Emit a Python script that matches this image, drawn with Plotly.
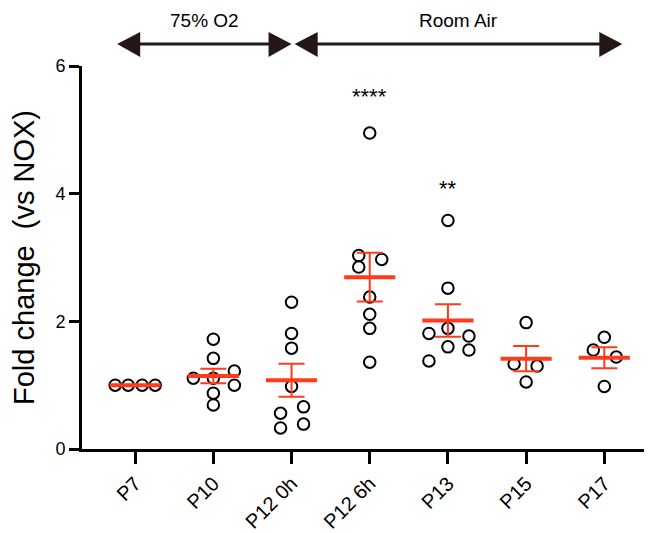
import numpy as np
import plotly.graph_objects as go

# ---- data ----
categories = ["P7", "P10", "P12 0h", "P12 6h", "P13", "P15", "P17"]
p7 = [1.00, 1.00, 1.00, 1.00]
p10 = [1.72, 1.42, 1.11, 1.11, 1.22, 1.00, 0.875, 0.69]
p12_0h = [2.30, 1.81, 1.58, 0.98, 0.66, 0.56, 0.39, 0.33]
p12_6h = [4.95, 3.03, 2.97, 2.85, 2.38, 2.11, 1.89, 1.36]
p13 = [3.58, 2.52, 1.81, 1.89, 1.77, 1.60, 1.55, 1.38]
p15 = [1.98, 1.33, 1.30, 1.05]
p17 = [1.75, 1.55, 1.44, 0.98]
series = [p7, p10, p12_0h, p12_6h, p13, p15, p17]
significance = {"P12 6h": ("****", 5.52), "P13": ("**", 4.08)}
y_ticks = [0, 2, 4, 6]
groups = [("75% O2", -0.23, 2.0), ("Room Air", 2.04, 6.23)]

# ---- layout of the swarm (horizontal offsets, in px) ----
offsets_px = [
    [-20, -7, 7, 20],
    [0, 0, -20, 0, 21, 21, 0, 0],
    [0, 0, 0, 0, 12, -11, 12, -11],
    [0, -11, 12, -11, 0, 0, 0, 0],
    [0, 0, -19, 0, 21, 0, 21, -19],
    [0, -12, 11, 0],
    [0, -11, 12, 0],
]

# page has an 8px body margin; figure sized so the plot lands where the reference has it
PAGE_OFF = 8
W, H = 644, 525
ML, MR, MT, MB = 74, 0, 58, 84
xr = [-0.68, 6.61]
px_per_unit = (W - ML - MR) / (xr[1] - xr[0])

RED = "#FF3B1D"
DARK = "#231815"
FONT = "Liberation Sans, Arial, Helvetica, sans-serif"

fig = go.Figure()

xs, ys = [], []
for i, (vals, offs) in enumerate(zip(series, offsets_px)):
    for v, o in zip(vals, offs):
        xs.append(i + o / px_per_unit)
        ys.append(v)
fig.add_trace(go.Scatter(
    x=xs, y=ys, mode="markers",
    marker=dict(symbol="circle-open", size=11.5, color="black",
                line=dict(width=2, color="black")),
    showlegend=False, hoverinfo="y"))

means = [float(np.mean(v)) for v in series]
sems = [float(np.std(v, ddof=1) / np.sqrt(len(v))) for v in series]
fig.add_trace(go.Scatter(
    x=list(range(len(categories))), y=means, mode="markers",
    marker=dict(symbol="line-ew", size=36.5, color=RED,
                line=dict(width=4, color=RED)),
    error_y=dict(type="data", array=sems, visible=True, color=RED,
                 thickness=2, width=13),
    showlegend=False, hoverinfo="y"))

annotations = []
for cat, (txt, yv) in significance.items():
    annotations.append(dict(x=categories.index(cat), y=yv, xref="x", yref="y",
                            text=txt, showarrow=False,
                            font=dict(size=22, color="black", family=FONT)))

shapes = []
plot_h = H - MT - MB
def ypaper(py):
    return (H - MB - (py - PAGE_OFF)) / plot_h

arrow_y = ypaper(44)
head_len = 23 / px_per_unit
head_top = ypaper(32)
head_bot = ypaper(57)
for label, x0, x1 in groups:
    shapes.append(dict(type="line", xref="x", yref="paper",
                       x0=x0 + head_len * 0.5, x1=x1 - head_len * 0.5,
                       y0=arrow_y, y1=arrow_y,
                       line=dict(color=DARK, width=3)))
    shapes.append(dict(type="path", xref="x", yref="paper",
                       path=f"M {x0} {arrow_y} L {x0 + head_len} {head_top} L {x0 + head_len} {head_bot} Z",
                       fillcolor=DARK, line=dict(color=DARK, width=0)))
    shapes.append(dict(type="path", xref="x", yref="paper",
                       path=f"M {x1} {arrow_y} L {x1 - head_len} {head_top} L {x1 - head_len} {head_bot} Z",
                       fillcolor=DARK, line=dict(color=DARK, width=0)))
    annotations.append(dict(x=(x0 + x1) / 2, y=ypaper(20), xref="x", yref="paper",
                            xanchor="center", yanchor="middle",
                            text=label, showarrow=False,
                            font=dict(size=19, color="black", family=FONT)))

fig.update_layout(
    width=W, height=H,
    margin=dict(l=ML, r=MR, t=MT, b=MB),
    paper_bgcolor="white", plot_bgcolor="white",
    font=dict(family=FONT, color="black"),
    shapes=shapes, annotations=annotations,
    xaxis=dict(range=xr, tickmode="array",
               tickvals=list(range(len(categories))), ticktext=categories,
               tickangle=-45, showgrid=False, zeroline=False,
               showline=True, linecolor="black", linewidth=3,
               ticks="outside", ticklen=12, tickwidth=3, tickcolor="black",
               tickfont=dict(size=20, family=FONT)),
    yaxis=dict(range=[0, 6], tickvals=y_ticks, showgrid=False, zeroline=False,
               showline=True, linecolor="black", linewidth=3,
               ticks="outside", ticklen=10, tickwidth=3, tickcolor="black",
               tickfont=dict(size=18, family=FONT),
               title=dict(text="Fold change  (vs NOX)", standoff=16,
                          font=dict(size=29, family=FONT))),
)

fig.write_html("out.html")
